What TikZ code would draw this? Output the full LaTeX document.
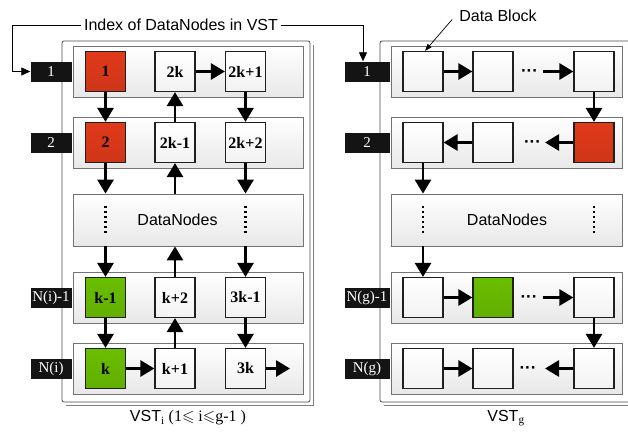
\documentclass[tikz,border=0pt]{standalone}
\usepackage{fontspec}
\setmainfont{Liberation Serif}
\setsansfont{Liberation Sans}
\usepackage{amssymb}
\usetikzlibrary{arrows.meta,calc}
\definecolor{blockred}{HTML}{E03A1A}
\definecolor{blockgreen}{HTML}{6ABE00}
\tikzset{
  rowpanel/.style={draw=black!55, line width=0.8pt, top color=white, bottom color=black!9,
    minimum width=230pt, minimum height=51pt, inner sep=0pt},
  blk/.style={draw=black!88, line width=1.2pt, top color=white, bottom color=black!5,
    minimum width=40pt, minimum height=40pt, inner sep=0pt,
    font=\fontsize{16}{18}\selectfont\bfseries},
  redblk/.style={blk, top color=blockred, bottom color=blockred!92!black},
  greenblk/.style={blk, top color=blockgreen, bottom color=blockgreen!92!black},
  tag/.style={fill=black!92, text=white, minimum width=41pt, minimum height=20pt,
    inner sep=0pt, font=\fontsize{15}{17}\selectfont},
  rtag/.style={tag, minimum width=45pt},
  flow/.style={line width=2.8pt, -{Triangle[length=14pt,width=16pt]}},
  thinarrow/.style={line width=0.8pt, -{Triangle[length=9pt,width=8pt]}},
  dnline/.style={line width=2.2pt, dash pattern=on 2pt off 3pt},
  sanslabel/.style={font=\sffamily\fontsize{16}{18}\selectfont, inner sep=1pt},
  dots/.style={font=\sffamily\bfseries\fontsize{17}{18}\selectfont, inner sep=0pt, anchor=base},
  outerframe/.style={draw=black!70, line width=0.8pt, fill=white, rounded corners=2pt},
  framebevel/.style={draw=black!50, line width=1.5pt}
}
\begin{document}
\begin{tikzpicture}[x=1pt, y=-1pt]
\useasboundingbox (0,0) rectangle (628,432);
\clip (0,0) rectangle (628,432);

% outer frames of the two virtual storage trees
\draw[framebevel] (313.5,45) -- (313.5,405.5) -- (66,405.5);
\draw[outerframe] (62,41) rectangle (310,402);
\draw[framebevel] (384,405.5) -- (640,405.5);
\draw[outerframe] (380,41) rectangle (645,402);

% ---------- VST_i ----------
\node[rowpanel] (LP1) at (188,71.5) {};
\node[rowpanel] (LP2) at (188,142.5) {};
\node[rowpanel, minimum height=52pt] (LDN) at (188,220) {};
\node[rowpanel] (LP4) at (188,297.5) {};
\node[rowpanel] (LP5) at (188,368.5) {};
\node[sanslabel] (LDNt) at (177.5,220) {DataNodes};

\node[redblk]   (L1a) at (105.5,71.5) {1};
\node[blk]      (L1b) at (175,71.5)   {2k};
\node[blk]      (L1c) at (245.5,71.5) {2k+1};
\node[redblk]   (L2a) at (105.5,142.5) {2};
\node[blk]      (L2b) at (175,142.5)   {2k-1};
\node[blk]      (L2c) at (245.5,142.5) {2k+2};
\node[greenblk] (L4a) at (105.5,297.5) {k-1};
\node[blk]      (L4b) at (175,297.5)   {k+2};
\node[blk]      (L4c) at (245.5,297.5) {3k-1};
\node[greenblk] (L5a) at (105.5,368.5) {k};
\node[blk]      (L5b) at (175,368.5)   {k+1};
\node[blk]      (L5c) at (245.5,368.5) {3k};
\coordinate (L5end) at (290,368.5);

\draw[dnline] (105.5,206) -- (105.5,235);
\draw[dnline] (245.5,206) -- (245.5,235);

% column 1 runs downwards
\draw[flow] (L1a.south) -- (L2a.north);
\draw[flow] (L2a.south) -- (L2a |- LDN.north);
\draw[flow] (L4a |- LDN.south) -- (L4a.north);
\draw[flow] (L4a.south) -- (L5a.north);
% column 2 runs upwards
\draw[flow] (L2b.north) -- (L1b.south);
\draw[flow] (L2b |- LDN.north) -- (L2b.south);
\draw[flow] (L4b.north) -- (L4b |- LDN.south);
\draw[flow] (L5b.north) -- (L4b.south);
% column 3 runs downwards
\draw[flow] (L1c.south) -- (L2c.north);
\draw[flow] (L2c.south) -- (L2c |- LDN.north);
\draw[flow] (L4c |- LDN.south) -- (L4c.north);
\draw[flow] (L4c.south) -- (L5c.north);
% row links
\draw[flow] (L1b.east) -- (L1c.west);
\draw[flow] (L5a.east) -- (L5b.west);
\draw[flow] (L5c.east) -- (L5end);

\node[tag] (LT1) at (51,71.5)  {1};
\node[tag] (LT2) at (51,142.5) {2};
\node[tag] (LT4) at (51,297.5) {N(i)-1};
\node[tag] (LT5) at (51,368.5) {N(i)};

% ---------- VST_g ----------
\node[rowpanel, minimum width=231pt] (RP1) at (506.5,71.5) {};
\node[rowpanel, minimum width=231pt] (RP2) at (506.5,142.5) {};
\node[rowpanel, minimum width=231pt, minimum height=52pt] (RDN) at (506.5,220) {};
\node[rowpanel, minimum width=231pt] (RP4) at (506.5,297.5) {};
\node[rowpanel, minimum width=231pt] (RP5) at (506.5,368.5) {};
\node[sanslabel] (RDNt) at (507,220) {DataNodes};

\node[blk]      (R1a) at (423,71.5) {};
\node[blk]      (R1b) at (493,71.5) {};
\node[blk]      (R1c) at (594,71.5) {};
\node[blk]      (R2a) at (423,142.5) {};
\node[blk]      (R2b) at (493,142.5) {};
\node[redblk]   (R2c) at (594,142.5) {};
\node[blk]      (R4a) at (423,297.5) {};
\node[greenblk] (R4b) at (493,297.5) {};
\node[blk]      (R4c) at (594,297.5) {};
\node[blk]      (R5a) at (423,368.5) {};
\node[blk]      (R5b) at (493,368.5) {};
\node[blk]      (R5c) at (594,368.5) {};

\node[dots] (D1) at (529.5,76.5) {···};
\node[dots] (D2) at (532.5,147.5) {···};
\node[dots] (D4) at (529,302.5) {···};
\node[dots] (D5) at (528,373.5) {···};
\coordinate (A1) at (543,71.5);
\coordinate (A2) at (545,142.5);
\coordinate (A4) at (543,297.5);
\coordinate (A5) at (545,368.5);

\draw[dnline] (423,206) -- (423,235);
\draw[dnline] (594,206) -- (594,235);

\draw[flow] (R1a.east) -- (R1b.west);
\draw[flow] (A1) -- (R1c.west);
\draw[flow] (R1c.south) -- (R2c.north);
\draw[flow] (R2c.west) -- (A2);
\draw[flow] (R2b.west) -- (R2a.east);
\draw[flow] (R2a.south) -- (R2a |- RDN.north);
\draw[flow] (R4a |- RDN.south) -- (R4a.north);
\draw[flow] (R4a.east) -- (R4b.west);
\draw[flow] (A4) -- (R4c.west);
\draw[flow] (R4c.south) -- (R5c.north);
\draw[flow] (R5a.east) -- (R5b.west);
\draw[flow] (R5c.west) -- (A5);

\node[rtag] (RT1) at (367,71.5)  {1};
\node[rtag] (RT2) at (367,142.5) {2};
\node[rtag] (RT4) at (367,297.5) {N(g)-1};
\node[rtag] (RT5) at (367,368.5) {N(g)};

% ---------- labels and index line ----------
\node[sanslabel, fill=white, inner sep=3pt] (idx) at (181,25) {Index of DataNodes in VST};
\draw[thinarrow] (idx.west) -| ([xshift=-18pt]LT1.west) -- (LT1.west);
\draw[thinarrow] (idx.east) -| ([xshift=-4pt]RT1.north);

\node[sanslabel] (db) at (498,15.5) {Data Block};
\draw[line width=0.7pt, -{Triangle[length=7pt,width=5pt]}] ($(db.west)+(-6,4)$) -- ([xshift=2pt]R1a.north);

\node[font=\fontsize{16}{18}\selectfont, inner sep=0pt] (capL) at (188,418)
  {{\sffamily VST}\textsubscript{i} (1$\leqslant$ i$\leqslant$g-1 )};
\node[font=\fontsize{16}{18}\selectfont, inner sep=0pt] (capR) at (506,418)
  {{\sffamily VST}\textsubscript{g}};
\end{tikzpicture}
\end{document}
